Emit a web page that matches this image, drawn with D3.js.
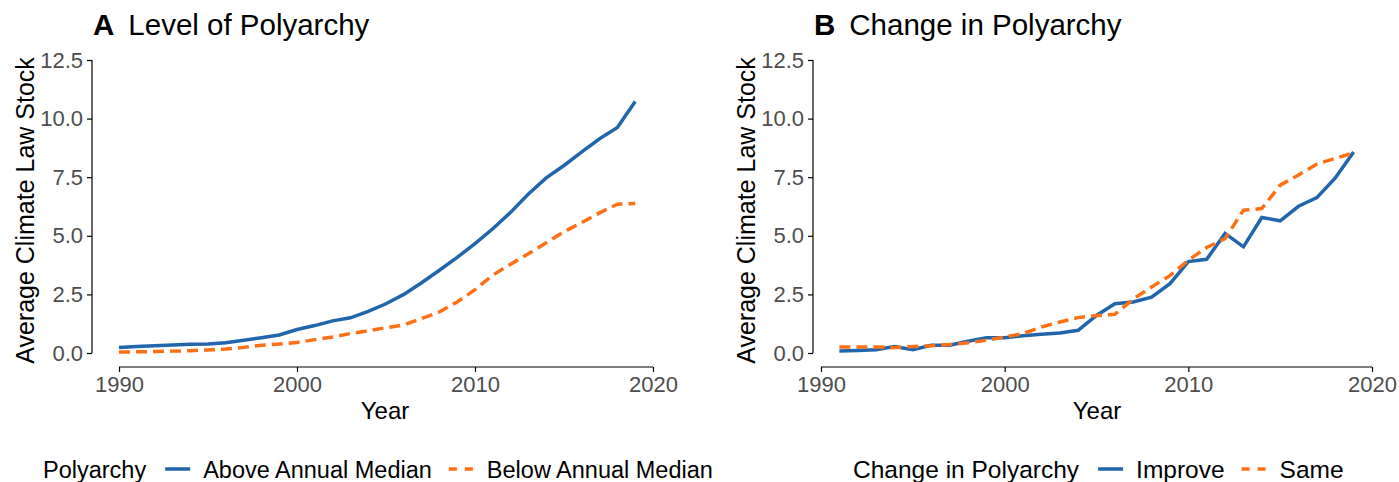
<!DOCTYPE html>
<html>
<head>
<meta charset="utf-8">
<script src="https://cdn.jsdelivr.net/npm/d3@7"></script>
<style>
  body { margin: 0; background: #fff; }
  svg text { font-family: "Liberation Sans", Arial, sans-serif; }
</style>
</head>
<body>
<svg></svg>
<script>
// panel A: level of polyarchy
let yearsA = d3.range(1990, 2020);
let aboveMedian = [0.23, 0.28, 0.31, 0.34, 0.37, 0.38, 0.44, 0.54, 0.65, 0.77,
                   1.0, 1.17, 1.37, 1.5, 1.78, 2.1, 2.5, 3.0, 3.53, 4.08,
                   4.67, 5.3, 6.0, 6.78, 7.47, 8.0, 8.58, 9.14, 9.62, 10.73];
let belowMedian = [0.04, 0.05, 0.06, 0.08, 0.1, 0.13, 0.17, 0.24, 0.33, 0.38,
                   0.45, 0.57, 0.68, 0.83, 0.95, 1.08, 1.2, 1.47, 1.75, 2.18,
                   2.7, 3.32, 3.79, 4.23, 4.7, 5.17, 5.57, 5.98, 6.35, 6.38];

// panel B: change in polyarchy
let yearsB = d3.range(1991, 2020);
let improve = [0.09, 0.11, 0.14, 0.28, 0.14, 0.33, 0.33, 0.5, 0.65,
               0.65, 0.74, 0.8, 0.85, 0.97, 1.6, 2.1, 2.18, 2.38, 2.96,
               3.9, 4.0, 5.1, 4.53, 5.78, 5.64, 6.26, 6.63, 7.47, 8.58];
let same = [0.26, 0.26, 0.26, 0.23, 0.28, 0.31, 0.36, 0.44, 0.54,
            0.68, 0.83, 1.11, 1.32, 1.51, 1.6, 1.65, 2.3, 2.82, 3.3,
            3.96, 4.5, 4.88, 6.09, 6.16, 7.16, 7.59, 8.06, 8.3, 8.54];

let xTicks = [1990, 2000, 2010, 2020];
let yTicks = [0, 2.5, 5, 7.5, 10, 12.5];

let width = 1399;
let height = 482;
let blue = '#2166ac';
let orange = '#fd7016';

let svg = d3.select('svg').attr('width', width).attr('height', height);

let panels = [
  { tag: 'A', title: 'Level of Polyarchy', xRange: [119, 653], axisX: 92, titleX: 93, yearX: 385,
    legendTitle: 'Polyarchy', legendX: 43, legendSize: 23.5,
    series: [
      { name: 'Above Annual Median', years: yearsA, values: aboveMedian, color: blue, dash: null },
      { name: 'Below Annual Median', years: yearsA, values: belowMedian, color: orange, dash: '11,6' }
    ] },
  { tag: 'B', title: 'Change in Polyarchy', xRange: [821, 1372], axisX: 813, titleX: 814, yearX: 1097,
    legendTitle: 'Change in Polyarchy', legendX: 853, legendSize: 24.5,
    series: [
      { name: 'Improve', years: yearsB, values: improve, color: blue, dash: null },
      { name: 'Same', years: yearsB, values: same, color: orange, dash: '11,6' }
    ] }
];

let yScale = d3.scaleLinear().domain([0, 12.5]).range([353, 60]);
let xAxisY = 367;

panels.forEach(p => {
  let xScale = d3.scaleLinear().domain([1990, 2020]).range(p.xRange);

  // y axis
  let yAxis = d3.axisLeft(yScale).tickValues(yTicks).tickSize(5).tickPadding(4)
                .tickFormat(d3.format('.1f'));
  let gy = svg.append('g').attr('transform', 'translate(' + p.axisX + ',0)').call(yAxis);
  // x axis
  let xAxis = d3.axisBottom(xScale).tickValues(xTicks).tickSize(5).tickPadding(4)
                .tickFormat(d3.format('d'));
  let gx = svg.append('g').attr('transform', 'translate(0,' + xAxisY + ')').call(xAxis);

  [gx, gy].forEach(g => {
    g.select('.domain').remove();
    g.selectAll('.tick line').attr('stroke', '#000').attr('stroke-width', 1.2);
    g.selectAll('.tick text').attr('fill', '#4d4d4d').style('font-size', '22px')
     .style('font-family', '"Liberation Sans", Arial, sans-serif');
  });
  // capped axis lines
  gy.append('line').attr('x1', 0).attr('x2', 0)
    .attr('y1', yScale(0)).attr('y2', yScale(12.5))
    .attr('stroke', '#000').attr('stroke-width', 1.2);
  gx.append('line').attr('y1', 0).attr('y2', 0)
    .attr('x1', xScale(1990)).attr('x2', xScale(2020))
    .attr('stroke', '#000').attr('stroke-width', 1.2);

  // lines
  p.series.forEach(s => {
    let line = d3.line().x((d, i) => xScale(s.years[i])).y(d => yScale(d));
    svg.append('path')
       .datum(s.values)
       .attr('d', line)
       .attr('fill', 'none')
       .attr('stroke', s.color)
       .attr('stroke-width', 3.5)
       .attr('stroke-dasharray', s.dash);
  });

  // title
  let t = svg.append('text').attr('x', p.titleX).attr('y', 35).style('font-size', '29.5px').attr('fill', '#000');
  t.append('tspan').style('font-weight', 'bold').text(p.tag);
  t.append('tspan').attr('dx', 14).text(p.title);

  // axis titles
  svg.append('text').attr('x', p.yearX).attr('y', 419).attr('text-anchor', 'middle')
     .style('font-size', '24px').text('Year');
  svg.append('text')
     .attr('transform', 'translate(' + (p.axisX - 58) + ',' + (yScale(6.25) + 4) + ') rotate(-90)')
     .attr('text-anchor', 'middle').style('font-size', '25px')
     .text('Average Climate Law Stock');

  // legend
  let lg = svg.append('g');
  let lt = lg.append('text').attr('x', p.legendX).attr('y', 478).style('font-size', p.legendSize + 'px').text(p.legendTitle);
  let cursor = p.legendX + lt.node().getComputedTextLength() + 19;
  p.series.forEach(s => {
    lg.append('line').attr('x1', cursor).attr('x2', cursor + 25)
      .attr('y1', 469).attr('y2', 469)
      .attr('stroke', s.color).attr('stroke-width', 3.5)
      .attr('stroke-dasharray', s.dash ? '8,8' : null);
    let st = lg.append('text').attr('x', cursor + 38).attr('y', 478).style('font-size', p.legendSize + 'px').text(s.name);
    cursor = cursor + 38 + st.node().getComputedTextLength() + 17;
  });
});
</script>
</body>
</html>
